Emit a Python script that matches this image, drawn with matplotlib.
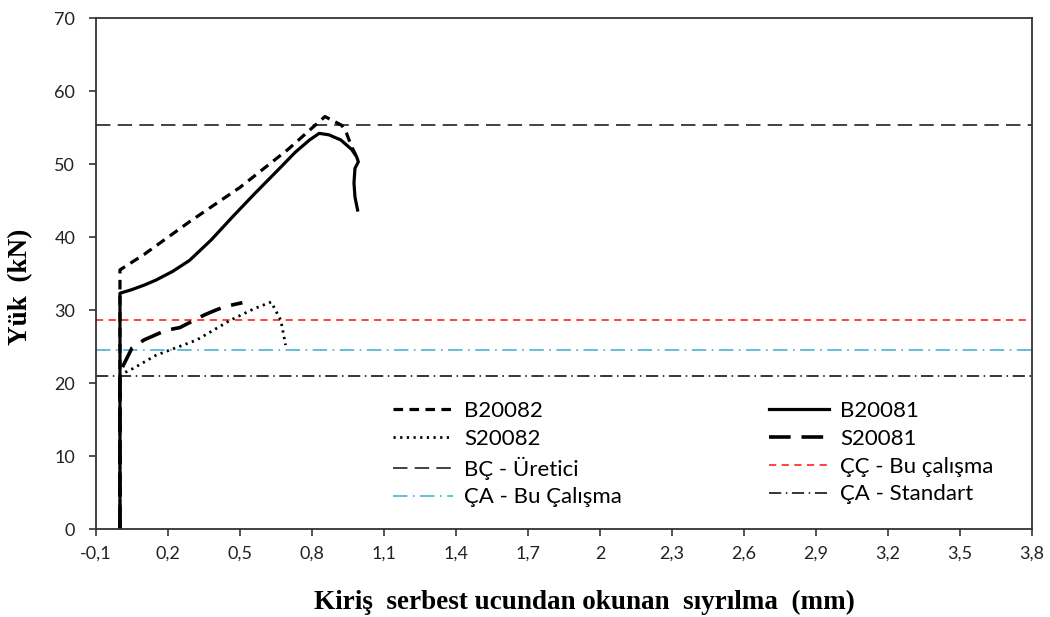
import matplotlib
matplotlib.use("Agg")
import matplotlib.pyplot as plt

# ---- data ----
b20082_x = [0.0, 0.0, 0.0, 0.10, 0.29, 0.50, 0.70, 0.854, 0.924, 0.944, 0.965, 0.983]
b20082_y = [0.0, 32.3, 35.5, 37.6, 42.1, 46.8, 52.0, 56.5, 55.3, 54.2, 52.4, 51.2]

b20081_x = [0.0, 0.0, 0.05, 0.10, 0.15, 0.22, 0.29, 0.38, 0.47, 0.56, 0.65, 0.73, 0.79,
            0.83, 0.87, 0.92, 0.965, 0.986, 0.993, 0.979, 0.975, 0.979, 0.99]
b20081_y = [0.0, 32.3, 32.8, 33.4, 34.1, 35.3, 36.8, 39.6, 42.8, 45.9, 48.9, 51.6, 53.3,
            54.2, 54.0, 53.3, 52.0, 51.0, 50.3, 49.4, 47.4, 45.5, 43.7]

s20082_x = [0.0, 0.0, 0.055, 0.15, 0.32, 0.46, 0.56, 0.63, 0.67, 0.69]
s20082_y = [0.0, 21.1, 22.0, 23.8, 25.9, 28.6, 30.2, 31.1, 28.6, 25.2]

s20081_x = [0.0, 0.0, 0.05, 0.10, 0.19, 0.25, 0.35, 0.40, 0.44, 0.51]
s20081_y = [0.0, 21.5, 24.8, 25.9, 27.2, 27.6, 29.3, 30.0, 30.5, 31.0]

bc_uretici = 55.3
cc_bu = 28.6
ca_bu = 24.5
ca_standart = 21.0

x_ticks = [-0.1, 0.2, 0.5, 0.8, 1.1, 1.4, 1.7, 2.0, 2.3, 2.6, 2.9, 3.2, 3.5, 3.8]
x_tick_labels = ["-0,1", "0,2", "0,5", "0,8", "1,1", "1,4", "1,7", "2",
                 "2,3", "2,6", "2,9", "3,2", "3,5", "3,8"]
y_ticks = [0, 10, 20, 30, 40, 50, 60, 70]

# ---- figure ----
fig = plt.figure(figsize=(10.5, 6.17), dpi=100)
ax = fig.add_axes([0.0914, 0.1426, 0.8915, 0.8282])

xmin, xmax = -0.1, 3.8
hx = [xmin, xmax]

h_bc, = ax.plot(hx, [bc_uretici] * 2, color="#333333", lw=1.3, ls=(0, (8, 4)), label="BÇ - Üretici")
h_cc, = ax.plot(hx, [cc_bu] * 2, color="#ff3333", lw=1.3, ls=(0, (4, 3)), label="ÇÇ - Bu çalışma")
h_cab, = ax.plot(hx, [ca_bu] * 2, color="#5bb8d4", lw=1.3, ls=(0, (8, 3, 1, 3)), label="ÇA - Bu Çalışma")
h_cas, = ax.plot(hx, [ca_standart] * 2, color="black", lw=1.1, ls=(0, (8, 3, 1, 3)), label="ÇA - Standart")

h_b82, = ax.plot(b20082_x, b20082_y, color="black", lw=2.3, ls=(0, (3, 2)), label="B20082")
h_s82, = ax.plot(s20082_x, s20082_y, color="black", lw=2.0, ls=(0, (0.8, 1.6)), label="S20082")
h_s81, = ax.plot(s20081_x, s20081_y, color="black", lw=2.6, ls=(0, (6, 3)), label="S20081")
h_b81, = ax.plot(b20081_x, b20081_y, color="black", lw=2.3, ls="-", label="B20081")

ax.set_xlim(xmin, xmax)
ax.set_ylim(0, 70)
ax.set_xticks(x_ticks)
ax.set_xticklabels(x_tick_labels)
ax.set_yticks(y_ticks)

tick_font = "Lato"
for lab in ax.get_xticklabels() + ax.get_yticklabels():
    lab.set_fontfamily(tick_font)
    lab.set_fontsize(13)
    lab.set_color("#222222")

ax.tick_params(axis="both", direction="out", length=5, width=1.2, color="#333333")
ax.tick_params(axis="x", pad=7)
ax.tick_params(axis="y", pad=10)
for s in ax.spines.values():
    s.set_color("#333333")
    s.set_linewidth(1.3)

ax.set_xlabel("Kiriş  serbest ucundan okunan  sıyrılma  (mm)", fontfamily="Liberation Serif",
              fontweight="bold", fontsize=19.5)
ax.xaxis.set_label_coords(0.522, -0.119)
ax.set_ylabel("Yük  (kN)", fontfamily="Liberation Serif", fontweight="bold", fontsize=19.5)
ax.yaxis.set_label_coords(-0.067, 0.474)

handles = [h_b82, h_s82, h_bc, h_cab, h_b81, h_s81, h_cc, h_cas]
leg = ax.legend(handles=handles, ncol=2, loc="upper left", bbox_to_anchor=(0.308, 0.268),
                frameon=False, prop={"family": tick_font, "size": 16},
                handlelength=2.7, handletextpad=0.5, columnspacing=6.6, labelspacing=0.35,
                borderaxespad=0)

fig.savefig("out.png", dpi=100, facecolor="white")
